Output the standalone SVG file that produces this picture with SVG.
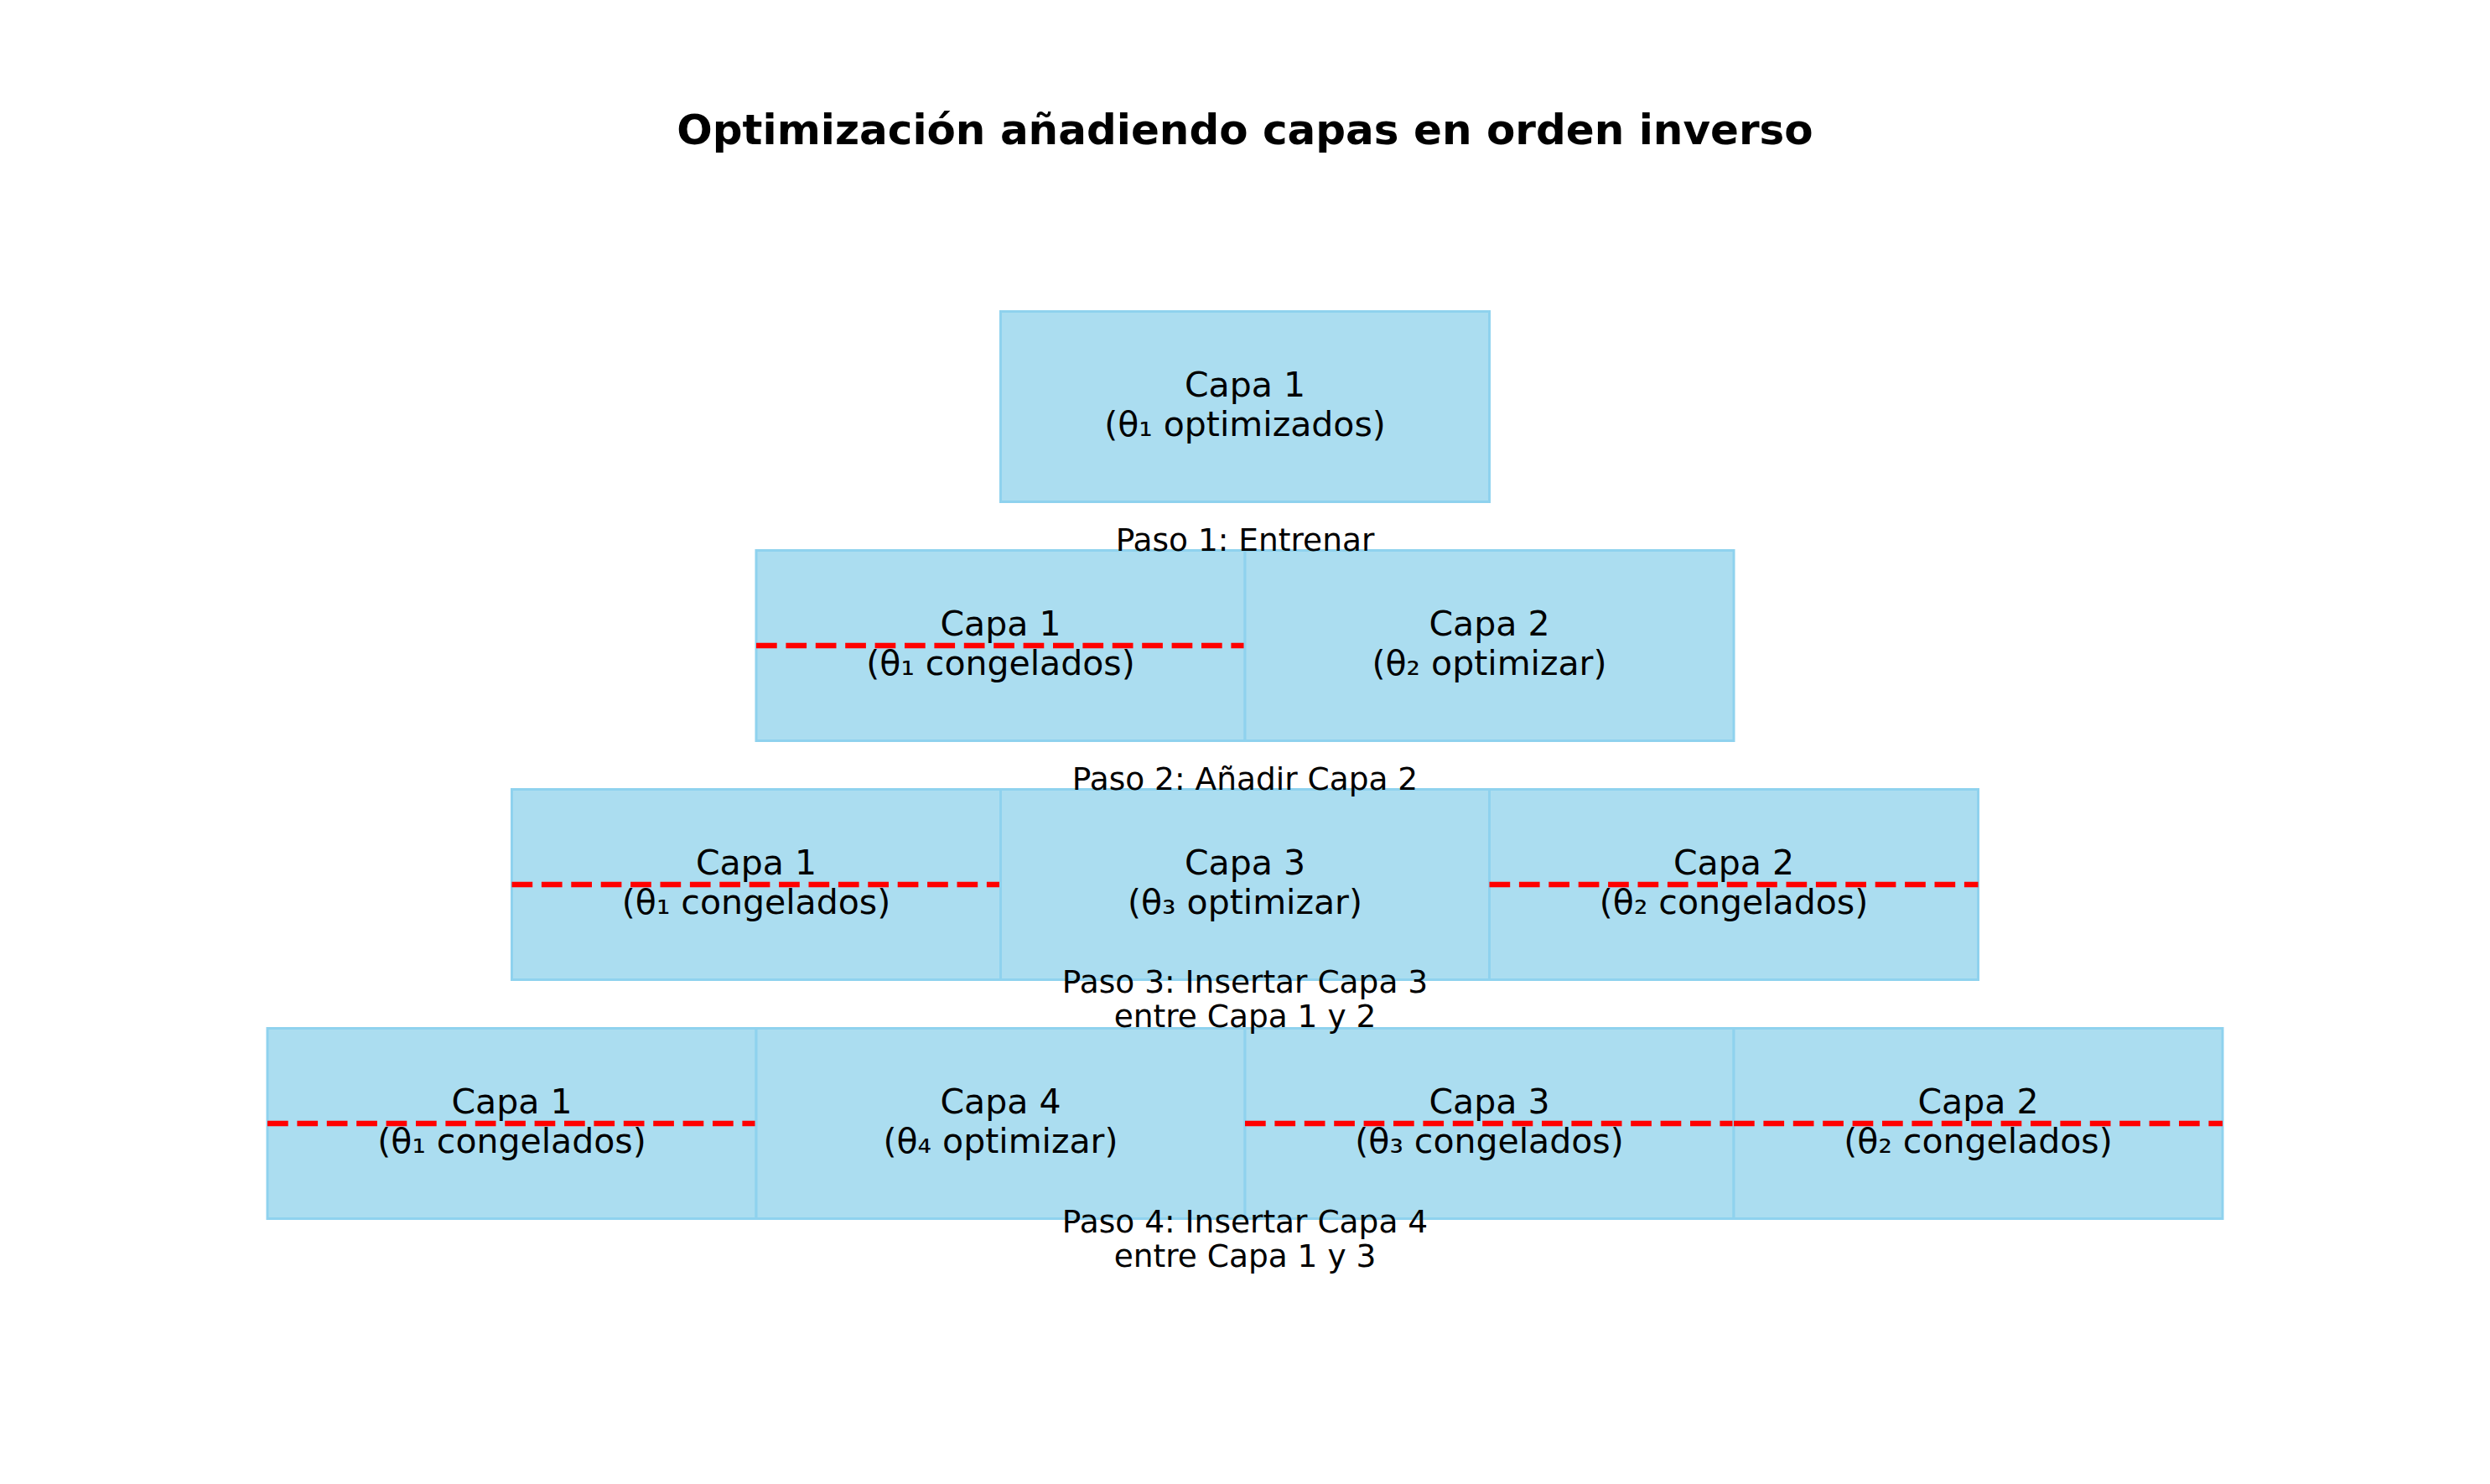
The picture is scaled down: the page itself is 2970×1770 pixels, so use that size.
<svg xmlns="http://www.w3.org/2000/svg" width="2970" height="1770" viewBox="0 0 2970 1770">
<style>
.box{fill:#ABDDF0;stroke:#8FD2EE;stroke-width:3}
.frz{stroke:#FF0000;stroke-width:6.7;stroke-dasharray:24.7 10.7;fill:none}
text{font-family:"DejaVu Sans",sans-serif;fill:#000;text-anchor:middle}
.t{font-size:41px}
.s{font-size:37.5px}
.title{font-size:50px;font-weight:bold}
</style>
<rect width="2970" height="1770" fill="#fff"/>
<text class="title" x="1485" y="172">Optimización añadiendo capas en orden inverso</text>
<g id="row1">
<g id="r1c1"><rect class="box" x="1193.5" y="371.5" width="583" height="227"/><text class="t" x="1485" y="473">Capa 1</text><text class="t" x="1485" y="520">(θ₁ optimizados)</text></g>
</g>
<g id="row2">
<g id="r2c1"><rect class="box" x="902" y="656.5" width="583" height="227"/><line class="frz" x1="902" y1="770" x2="1485" y2="770"/><text class="t" x="1193.5" y="758">Capa 1</text><text class="t" x="1193.5" y="805">(θ₁ congelados)</text></g>
<g id="r2c2"><rect class="box" x="1485" y="656.5" width="583" height="227"/><text class="t" x="1776.5" y="758">Capa 2</text><text class="t" x="1776.5" y="805">(θ₂ optimizar)</text></g>
</g>
<g id="row3">
<g id="r3c1"><rect class="box" x="610.5" y="941.5" width="583" height="227"/><line class="frz" x1="610.5" y1="1055" x2="1193.5" y2="1055"/><text class="t" x="902" y="1043">Capa 1</text><text class="t" x="902" y="1090">(θ₁ congelados)</text></g>
<g id="r3c2"><rect class="box" x="1193.5" y="941.5" width="583" height="227"/><text class="t" x="1485" y="1043">Capa 3</text><text class="t" x="1485" y="1090">(θ₃ optimizar)</text></g>
<g id="r3c3"><rect class="box" x="1776.5" y="941.5" width="583" height="227"/><line class="frz" x1="1776.5" y1="1055" x2="2359.5" y2="1055"/><text class="t" x="2068" y="1043">Capa 2</text><text class="t" x="2068" y="1090">(θ₂ congelados)</text></g>
</g>
<g id="row4">
<g id="r4c1"><rect class="box" x="319" y="1226.5" width="583" height="227"/><line class="frz" x1="319" y1="1340" x2="902" y2="1340"/><text class="t" x="610.5" y="1328">Capa 1</text><text class="t" x="610.5" y="1375">(θ₁ congelados)</text></g>
<g id="r4c2"><rect class="box" x="902" y="1226.5" width="583" height="227"/><text class="t" x="1193.5" y="1328">Capa 4</text><text class="t" x="1193.5" y="1375">(θ₄ optimizar)</text></g>
<g id="r4c3"><rect class="box" x="1485" y="1226.5" width="583" height="227"/><line class="frz" x1="1485" y1="1340" x2="2068" y2="1340"/><text class="t" x="1776.5" y="1328">Capa 3</text><text class="t" x="1776.5" y="1375">(θ₃ congelados)</text></g>
<g id="r4c4"><rect class="box" x="2068" y="1226.5" width="583" height="227"/><line class="frz" x1="2068" y1="1340" x2="2651" y2="1340"/><text class="t" x="2359.5" y="1328">Capa 2</text><text class="t" x="2359.5" y="1375">(θ₂ congelados)</text></g>
</g>
<g id="labels">
<text class="s" x="1485" y="657">Paso 1: Entrenar</text>
<text class="s" x="1485" y="942">Paso 2: Añadir Capa 2</text>
<text class="s" x="1485" y="1184">Paso 3: Insertar Capa 3</text>
<text class="s" x="1485" y="1225">entre Capa 1 y 2</text>
<text class="s" x="1485" y="1470">Paso 4: Insertar Capa 4</text>
<text class="s" x="1485" y="1511">entre Capa 1 y 3</text>
</g>
<g id="connectors"></g>
</svg>
